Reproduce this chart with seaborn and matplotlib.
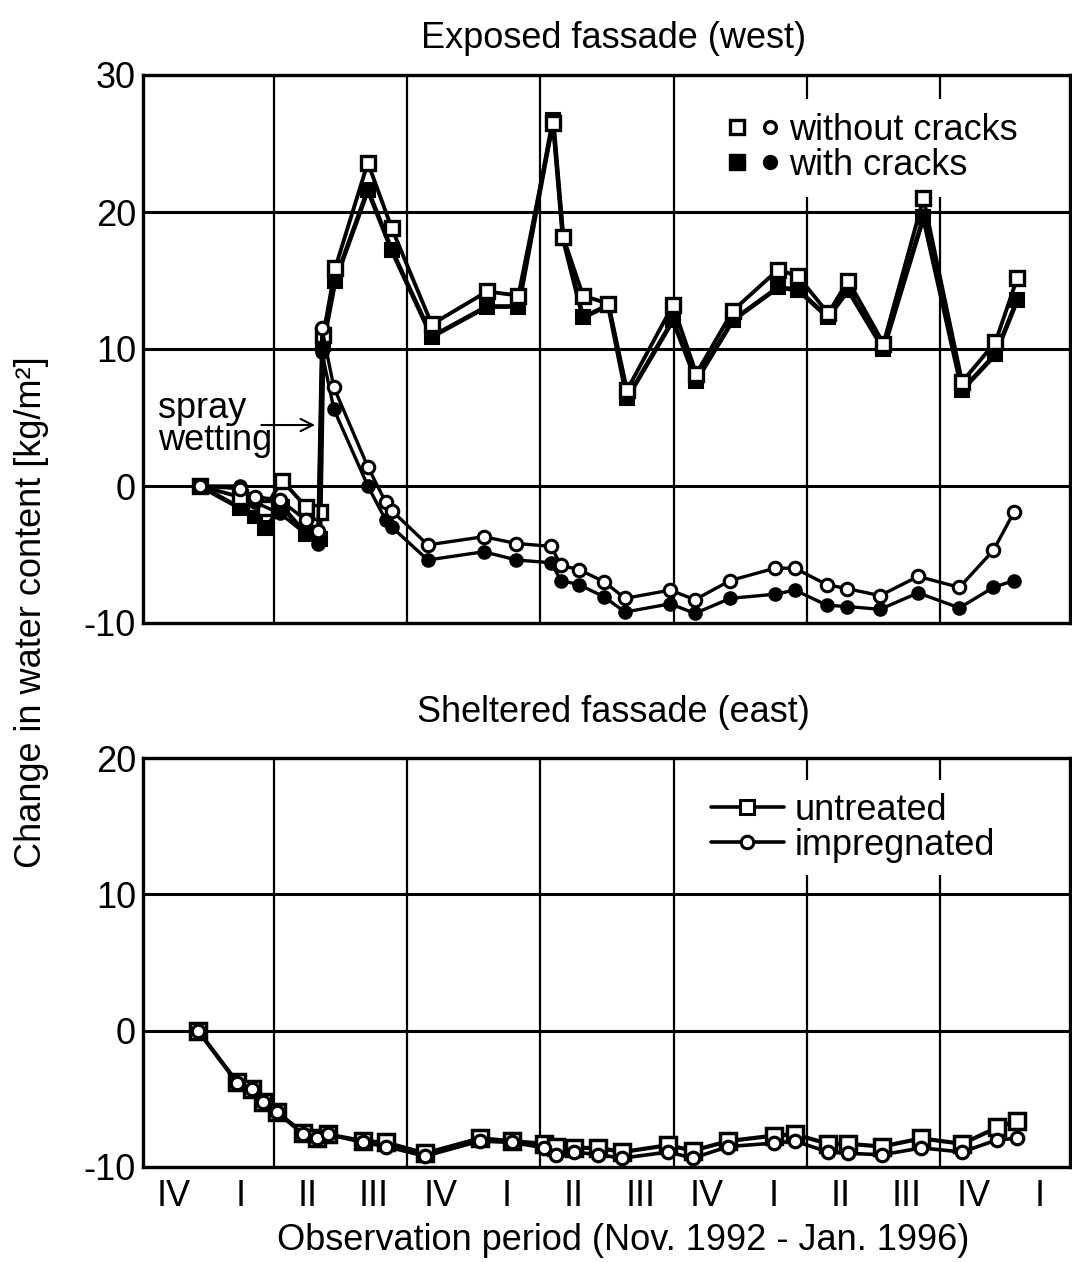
import numpy as np
import pandas as pd
import matplotlib
matplotlib.use('Agg')
import matplotlib.pyplot as plt
import seaborn as sns
from matplotlib.lines import Line2D
from matplotlib.legend_handler import HandlerTuple

# ---------------- data ----------------
quarter_labels = ['IV', 'I', 'II', 'III', 'IV', 'I', 'II', 'III', 'IV', 'I', 'II', 'III', 'IV', 'I']
yticks_top = [-10, 0, 10, 20, 30]
yticks_bottom = [-10, 0, 10, 20]

# time axis in quarters (0 = quarter IV 1992)
west_sq_time = [0.39, 0.99, 1.22, 1.37, 1.62, 1.98, 2.19, 2.24, 2.42, 2.91, 3.27, 3.87, 4.70,
                5.17, 5.69, 5.84, 6.14, 6.52, 6.80, 7.49, 7.84, 8.39, 9.07, 9.37, 9.82, 10.12,
                10.65, 11.25, 11.83, 12.33, 12.66]
west_untreated_nocrack = [0, -0.8, -1.3, -1.6, 0.4, -1.5, -1.9, 11.0, 15.9, 23.6, 18.8, 11.8, 14.2,
                          13.9, 26.5, 18.2, 13.9, 13.3, 7.0, 13.2, 8.2, 12.8, 15.8, 15.3, 12.6, 15.0,
                          10.4, 21.0, 7.6, 10.5, 15.2]
west_untreated_crack = [0, -1.6, -2.2, -3.1, -1.5, -3.5, -3.9, 10.4, 15.0, 21.6, 17.2, 10.9, 13.1,
                        13.1, 26.7, 18.1, 12.3, 13.2, 6.4, 12.1, 7.7, 12.1, 14.5, 14.3, 12.3, 14.3,
                        10.0, 19.6, 7.0, 9.6, 13.6]

west_ci_time = [0.39, 0.99, 1.22, 1.59, 1.98, 2.16, 2.22, 2.40, 2.91, 3.18, 3.27, 3.81, 4.65,
                5.14, 5.66, 5.81, 6.08, 6.46, 6.77, 7.45, 7.82, 8.35, 9.02, 9.32, 9.80, 10.11,
                10.60, 11.17, 11.79, 12.30, 12.61]
west_impreg_nocrack = [0, -0.2, -0.8, -1.0, -2.5, -3.3, 11.5, 7.2, 1.4, -1.2, -1.8, -4.3, -3.7,
                       -4.2, -4.4, -5.8, -6.1, -7.0, -8.2, -7.6, -8.3, -6.9, -6.0, -6.0, -7.2, -7.5,
                       -8.0, -6.6, -7.4, -4.7, -1.9]
west_impreg_crack = [0, 0.0, -1.2, -2.0, -3.5, -4.2, 9.8, 5.6, 0.0, -2.5, -3.0, -5.4, -4.8,
                     -5.4, -5.6, -6.9, -7.2, -8.1, -9.2, -8.6, -9.3, -8.2, -7.9, -7.6, -8.7, -8.8,
                     -9.0, -7.8, -8.9, -7.4, -6.9]

east_time = [0.36, 0.95, 1.17, 1.34, 1.55, 1.94, 2.15, 2.31, 2.84, 3.18, 3.77, 4.59, 5.08, 5.56,
             5.74, 6.01, 6.37, 6.73, 7.42, 7.79, 8.32, 9.00, 9.32, 9.82, 10.12, 10.63, 11.22,
             11.83, 12.36, 12.66]
east_untreated = [0, -3.8, -4.3, -5.2, -6.0, -7.5, -7.9, -7.6, -8.1, -8.2, -9.0, -7.9, -8.1, -8.3,
                  -8.5, -8.6, -8.6, -8.9, -8.4, -8.8, -8.1, -7.7, -7.6, -8.3, -8.3, -8.5, -7.9,
                  -8.3, -7.1, -6.6]
east_impregnated = [0, -3.85, -4.3, -5.2, -6.0, -7.6, -7.9, -7.6, -8.2, -8.5, -9.2, -8.1, -8.2, -8.6,
                    -9.1, -8.9, -9.1, -9.35, -8.9, -9.35, -8.5, -8.25, -8.1, -8.9, -9.0, -9.1, -8.6,
                    -8.9, -8.0, -7.9]

west_sq = pd.DataFrame({'t': west_sq_time, 'open': west_untreated_nocrack, 'filled': west_untreated_crack})
west_ci = pd.DataFrame({'t': west_ci_time, 'open': west_impreg_nocrack, 'filled': west_impreg_crack})
east = pd.DataFrame({'t': east_time, 'untreated': east_untreated, 'impregnated': east_impregnated})

# ---------------- style ----------------
sns.set_theme(style='white')
plt.rcParams['font.family'] = ['Liberation Sans', 'DejaVu Sans']
for k in ['text.color', 'axes.labelcolor', 'xtick.color', 'ytick.color', 'axes.edgecolor']:
    plt.rcParams[k] = 'black'
FS = 26

W, H = 1072, 1262
fig = plt.figure(figsize=(W / 100, H / 100), dpi=100)
ax1 = fig.add_axes([143 / W, 1 - 623 / H, (1070 - 143) / W, (623 - 75) / H])
ax2 = fig.add_axes([143 / W, 1 - 1167 / H, (1070 - 143) / W, (1167 - 758) / H])

XLIM = (-0.465, 13.45)


def style_axes(ax, yticks):
    ax.set_xlim(*XLIM)
    ax.set_ylim(yticks[0], yticks[-1])
    ax.set_yticks(yticks)
    ax.set_yticklabels([str(v) for v in yticks], fontsize=FS)
    ax.set_xticks(np.arange(len(quarter_labels)))
    ax.set_xticks(np.arange(1.5, 12.6, 2.0), minor=True)
    ax.grid(False)
    ax.grid(which='major', axis='y', color='black', linewidth=2.2)
    ax.grid(which='minor', axis='x', color='black', linewidth=1.6)
    ax.tick_params(which='both', length=0, pad=5, colors='black')
    for s in ax.spines.values():
        s.set_color('black')
        s.set_linewidth(2.4)
    ax.set_xlabel('')
    ax.set_ylabel('')
    ax.set_axisbelow(True)


# ---------------- top panel ----------------
common = dict(estimator=None, sort=False, color='black', ax=ax1)
sns.lineplot(data=west_sq, x='t', y='filled', marker='s', markersize=10, markerfacecolor='black',
             markeredgecolor='black', markeredgewidth=1.5, linewidth=3.4, zorder=3, **common)
sns.lineplot(data=west_sq, x='t', y='open', marker='s', markersize=10, markerfacecolor='white',
             markeredgecolor='black', markeredgewidth=2.4, linewidth=2.8, zorder=4, **common)
sns.lineplot(data=west_ci, x='t', y='filled', marker='o', markersize=9, markerfacecolor='black',
             markeredgecolor='black', markeredgewidth=1.5, linewidth=2.4, zorder=5, **common)
sns.lineplot(data=west_ci, x='t', y='open', marker='o', markersize=9, markerfacecolor='white',
             markeredgecolor='black', markeredgewidth=2.2, linewidth=2.4, zorder=6, **common)
style_axes(ax1, yticks_top)
ax1.set_xticklabels([])

h_open = (Line2D([], [], ls='none', marker='s', ms=10, mfc='white', mec='black', mew=2.4),
          Line2D([], [], ls='none', marker='o', ms=8.5, mfc='white', mec='black', mew=2.4))
h_fill = (Line2D([], [], ls='none', marker='s', ms=11, mfc='black', mec='black'),
          Line2D([], [], ls='none', marker='o', ms=10, mfc='black', mec='black'))
leg1 = ax1.legend([h_open, h_fill], ['without cracks', 'with cracks'],
                  handler_map={tuple: HandlerTuple(ndivide=None, pad=0.5)},
                  loc='upper left', bbox_to_anchor=(0.598, 0.99), fontsize=FS,
                  frameon=True, facecolor='white', edgecolor='none', framealpha=1,
                  handlelength=1.3, handletextpad=0.35, labelspacing=0.0, borderpad=0.4,
                  fancybox=False)
leg1.set_zorder(2)

ax1.text(-0.24, 4.96, 'spray', fontsize=FS, ha='left', va='baseline', zorder=8)
ax1.text(-0.24, 2.63, 'wetting', fontsize=FS, ha='left', va='baseline', zorder=8)
ax1.annotate('', xy=(2.16, 4.45), xytext=(1.27, 4.45),
             arrowprops=dict(arrowstyle='->', color='black', lw=1.5, mutation_scale=22), zorder=8)

# ---------------- bottom panel ----------------
common2 = dict(estimator=None, sort=False, color='black', ax=ax2)
sns.lineplot(data=east, x='t', y='untreated', marker='s', markersize=11, markerfacecolor='white',
             markeredgecolor='black', markeredgewidth=2.5, linewidth=3.0, zorder=3, **common2)
sns.lineplot(data=east, x='t', y='impregnated', marker='o', markersize=9, markerfacecolor='white',
             markeredgecolor='black', markeredgewidth=2.3, linewidth=2.6, zorder=4, **common2)
style_axes(ax2, yticks_bottom)
ax2.set_xticklabels(quarter_labels, fontsize=FS)
ax2.tick_params(axis='x', which='major', pad=9)

h_u = Line2D([], [], color='black', lw=2.6, marker='s', ms=10, mfc='white', mec='black', mew=2.2)
h_i = Line2D([], [], color='black', lw=2.6, marker='o', ms=9, mfc='white', mec='black', mew=2.2)
leg2 = ax2.legend([h_u, h_i], ['untreated', 'impregnated'], loc='upper left',
                  bbox_to_anchor=(0.58, 0.99), fontsize=FS, frameon=True, facecolor='white',
                  edgecolor='none', framealpha=1, handlelength=2.0, handletextpad=0.3,
                  labelspacing=0.0, borderpad=0.35, fancybox=False)
leg2.set_zorder(2)

# ---------------- texts ----------------
fig.text(0.572, 1 - 48 / H, 'Exposed fassade (west)', fontsize=FS, ha='center', va='baseline')
fig.text(0.572, 1 - 722 / H, 'Sheltered fassade (east)', fontsize=FS, ha='center', va='baseline')
fig.text(0.581, 1 - 1250 / H, 'Observation period (Nov. 1992 - Jan. 1996)', fontsize=FS,
         ha='center', va='baseline')
fig.text(32 / W, 1 - 612 / H, 'Change in water content [kg/m²]', fontsize=FS, rotation=90,
         ha='center', va='center')

fig.savefig('out.png', dpi=100, facecolor='white')
